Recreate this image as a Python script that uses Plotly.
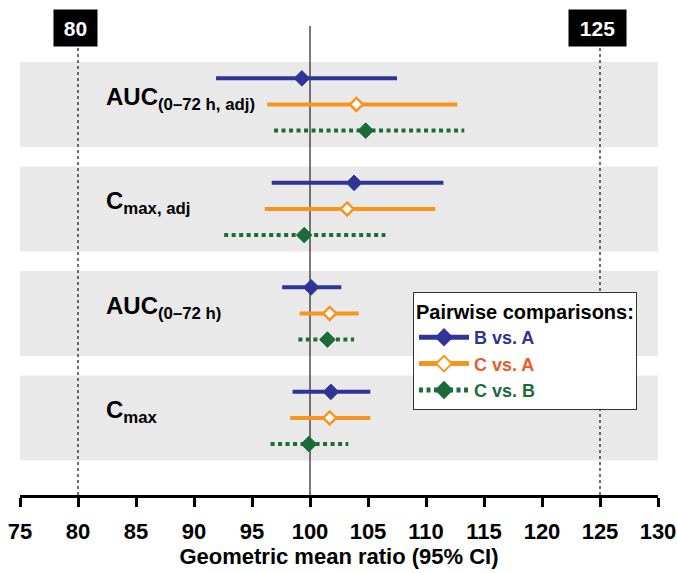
import plotly.graph_objects as go

# ---- data ----
measure_labels = ["AUC<sub>(0–72 h, adj)</sub>", "C<sub>max, adj</sub>",
                  "AUC<sub>(0–72 h)</sub>", "C<sub>max</sub>"]
measure_pos = [4, 3, 2, 1]
comparisons = ["B vs. A", "C vs. A", "C vs. B"]

b_vs_a_est = [99.3, 103.8, 100.1, 101.8]
b_vs_a_lo = [91.9, 96.7, 97.6, 98.5]
b_vs_a_hi = [107.5, 111.5, 102.7, 105.2]

c_vs_a_est = [104.0, 103.2, 101.7, 101.7]
c_vs_a_lo = [96.3, 96.1, 99.1, 98.3]
c_vs_a_hi = [112.7, 110.8, 104.2, 105.2]

c_vs_b_est = [104.8, 99.5, 101.5, 99.9]
c_vs_b_lo = [96.9, 92.6, 99.0, 96.6]
c_vs_b_hi = [113.3, 106.5, 103.8, 103.3]

x_ticks = [75, 80, 85, 90, 95, 100, 105, 110, 115, 120, 125, 130]
limits = [80, 125]
reference = 100

# ---- styles ----
FONT = "Arial, Liberation Sans, sans-serif"
series = [
    dict(name=comparisons[0], est=b_vs_a_est, lo=b_vs_a_lo, hi=b_vs_a_hi, off=0.25,
         color="#2f3597", text="#2f3597", dash="solid", fill="#2f3597", msize=12),
    dict(name=comparisons[1], est=c_vs_a_est, lo=c_vs_a_lo, hi=c_vs_a_hi, off=0.0,
         color="#f7941d", text="#f15a24", dash="solid", fill="white", msize=10),
    dict(name=comparisons[2], est=c_vs_b_est, lo=c_vs_b_lo, hi=c_vs_b_hi, off=-0.25,
         color="#1d6b37", text="#1d6b37", dash="4px,3.5px", fill="#1d6b37", msize=12),
]

fig = go.Figure()

for s in series:
    xs, ys, sizes = [], [], []
    for lo, est, hi, p in zip(s["lo"], s["est"], s["hi"], measure_pos):
        y = p + s["off"]
        xs += [lo, est, hi, None]
        ys += [y, y, y, None]
        sizes += [0, s["msize"], 0, 0]
    fig.add_trace(go.Scatter(
        x=xs, y=ys, mode="lines+markers",
        name=f"<span style='color:{s['text']}'>{s['name']}</span>",
        line=dict(color=s["color"], width=4, dash=s["dash"]),
        marker=dict(symbol="diamond", size=sizes, color=s["fill"], opacity=1,
                    line=dict(color=s["color"], width=2.5 if s["fill"] == "white" else 1)),
        connectgaps=False, hoverinfo="skip",
    ))

y_lo, y_hi = 0.263, 4.751
shapes = []
for p in measure_pos:
    shapes.append(dict(type="rect", xref="paper", yref="y", x0=0, x1=1,
                       y0=p - 0.407, y1=p + 0.407, fillcolor="#e9e9e9",
                       line=dict(width=0), layer="below"))
shapes.append(dict(type="line", xref="x", yref="paper", x0=reference, x1=reference,
                   y0=0, y1=1, line=dict(color="#222", width=1.2), layer="below"))
for lim in limits:
    shapes.append(dict(type="line", xref="x", yref="y", x0=lim, x1=lim,
                       y0=y_lo, y1=4.55, line=dict(color="#222", width=1.3, dash="3px,3px"),
                       layer="below"))

annotations = []
for lab, p in zip(measure_labels, measure_pos):
    annotations.append(dict(text=lab, xref="paper", yref="y", x=0.1364, y=p,
                            xshift=-3, yshift=6,
                            xanchor="left", yanchor="middle", showarrow=False,
                            font=dict(family=FONT, size=24, color="black", weight="bold")))
for lim, w in zip(limits, [43, 57]):
    annotations.append(dict(text=str(lim), xref="x", yref="y", x=lim, xshift=-3, y=4.732,
                            xanchor="center", yanchor="middle", showarrow=False,
                            bgcolor="black", width=w, height=36, borderpad=0,
                            font=dict(family=FONT, size=21, color="white", weight="bold")))

fig.update_layout(
    width=677, height=573,
    margin=dict(l=20, r=19, t=26, b=78),
    paper_bgcolor="white", plot_bgcolor="white",
    showlegend=True,
    shapes=shapes, annotations=annotations,
    xaxis=dict(range=[75, 130], tickvals=x_ticks, ticks="outside", ticklen=9,
               tickwidth=2.5, tickcolor="black", showline=True, linecolor="black",
               linewidth=3, showgrid=False, zeroline=False, automargin=False,
               ticklabelstandoff=6,
               tickfont=dict(family=FONT, size=22, color="black", weight="bold"),
               title=dict(text="Geometric mean ratio (95% CI)", standoff=1,
                          font=dict(family=FONT, size=22, color="black", weight="bold"))),
    yaxis=dict(range=[y_lo, y_hi], visible=False, fixedrange=True),
    legend=dict(x=0.616, y=0.4328, xanchor="left", yanchor="top",
                bgcolor="white", bordercolor="#333", borderwidth=1,
                itemsizing="constant", itemwidth=50, tracegroupgap=0,
                font=dict(family=FONT, size=18, color="black", weight="bold"),
                title=dict(text="Pairwise comparisons:",
                           font=dict(family=FONT, size=20, color="black", weight="bold"))),
)

fig.write_html("out.html", config={"displayModeBar": False},
               post_script="document.body.style.margin='0';document.body.style.overflow='hidden';")
